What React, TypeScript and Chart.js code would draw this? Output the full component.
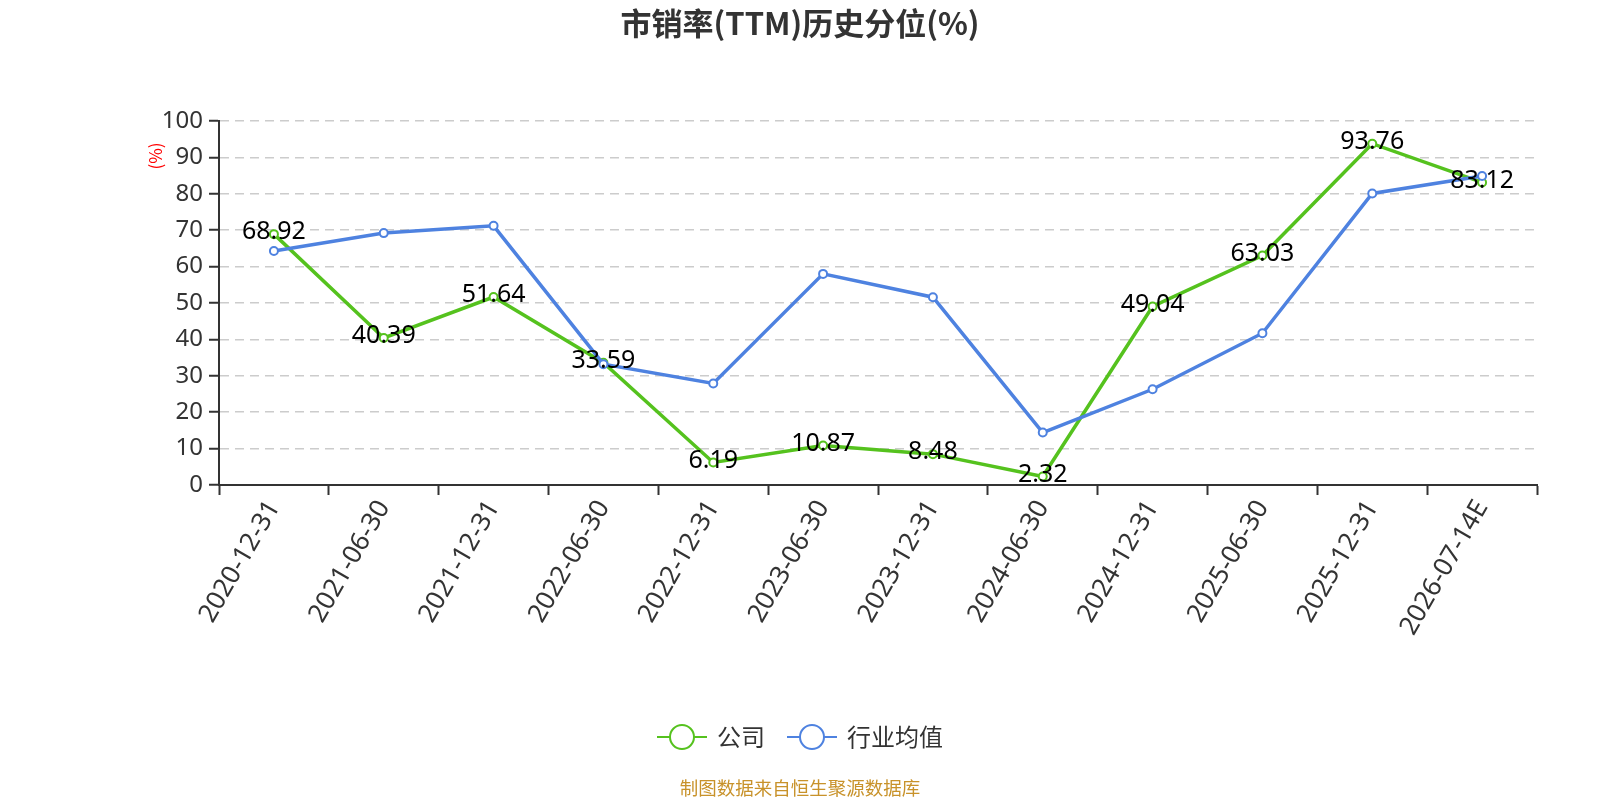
import { useEffect, useRef } from "react";
import { Chart, registerables, type Plugin } from "chart.js";

Chart.register(...registerables);

// ── Data ──────────────────────────────────────────────────────────────────────
const DATES = [
  "2020-12-31", "2021-06-30", "2021-12-31", "2022-06-30", "2022-12-31", "2023-06-30",
  "2023-12-31", "2024-06-30", "2024-12-31", "2025-06-30", "2025-12-31", "2026-07-14E",
];
const COMPANY = [68.92, 40.39, 51.64, 33.59, 6.19, 10.87, 8.48, 2.32, 49.04, 63.03, 93.76, 83.12];
const INDUSTRY = [64.3, 69.2, 71.2, 33.2, 27.9, 58.0, 51.6, 14.4, 26.3, 41.7, 80.1, 84.9];
const SERIES_NAMES = ["公司", "行业均值"];
const TITLE = "市销率(TTM)历史分位(%)";
const Y_NAME = "(%)";
const FOOTER = "制图数据来自恒生聚源数据库";

const GREEN = "#55c21e";
const BLUE = "#4e82e0";
const FONT = '"Noto Sans", "Noto Sans CJK SC", sans-serif';
const CJK = '"Noto Sans CJK SC", "Noto Sans", sans-serif';

// ── Value labels on the company series ───────────────────────────────────────
const valueLabels: Plugin = {
  id: "valueLabels",
  afterDraw(chart) {
    const { ctx } = chart;
    const meta = chart.getDatasetMeta(0);
    ctx.save();
    ctx.font = `25px ${FONT}`;
    ctx.fillStyle = "#000";
    ctx.textAlign = "center";
    ctx.textBaseline = "middle";
    meta.data.forEach((pt, i) => {
      ctx.fillText(COMPANY[i].toFixed(2), pt.x, pt.y - 2);
    });
    ctx.restore();
  },
};

// ── Title, axis name, legend, footer ─────────────────────────────────────────
const decorations: Plugin = {
  id: "decorations",
  afterDraw(chart) {
    const { ctx } = chart;
    const cx = chart.width / 2;
    ctx.save();

    ctx.fillStyle = "#333";
    ctx.font = `bold 31px ${CJK}`;
    ctx.textAlign = "center";
    ctx.textBaseline = "middle";
    ctx.fillText(TITLE, cx, 23);

    // y axis name
    ctx.save();
    ctx.translate(156, 156);
    ctx.rotate(-Math.PI / 2);
    ctx.fillStyle = "#ff0000";
    ctx.font = `17px ${CJK}`;
    ctx.fillText(Y_NAME, 0, 0);
    ctx.restore();

    // legend
    const colors = [GREEN, BLUE];
    ctx.font = `24px ${CJK}`;
    const widths = SERIES_NAMES.map((n) => ctx.measureText(n).width);
    const iconW = 50, gapIcon = 10, gapItem = 22;
    const total = widths.reduce((a, w) => a + iconW + gapIcon + w, 0) + gapItem * (SERIES_NAMES.length - 1);
    let x = cx - total / 2;
    const ly = 737;
    SERIES_NAMES.forEach((name, i) => {
      ctx.strokeStyle = colors[i];
      ctx.lineWidth = 2;
      ctx.beginPath();
      ctx.moveTo(x, ly);
      ctx.lineTo(x + iconW, ly);
      ctx.stroke();
      ctx.beginPath();
      ctx.arc(x + iconW / 2, ly, 12, 0, Math.PI * 2);
      ctx.fillStyle = "#fff";
      ctx.fill();
      ctx.stroke();
      ctx.fillStyle = "#333";
      ctx.textAlign = "left";
      ctx.fillText(name, x + iconW + gapIcon, ly);
      x += iconW + gapIcon + widths[i] + gapItem;
    });

    // footer
    ctx.textAlign = "center";
    ctx.fillStyle = "#c8922a";
    ctx.font = `18.5px ${CJK}`;
    ctx.fillText(FOOTER, cx, 788);

    ctx.restore();
  },
};

export default function App() {
  const canvasRef = useRef<HTMLCanvasElement>(null);

  useEffect(() => {
    const canvas = canvasRef.current;
    if (!canvas) return;

    const chart = new Chart(canvas, {
      type: "line",
      plugins: [decorations, valueLabels],
      data: {
        labels: DATES,
        datasets: [
          {
            label: SERIES_NAMES[0],
            data: COMPANY,
            order: 2,
            borderColor: GREEN,
            borderWidth: 3.5,
            tension: 0,
            pointRadius: 4,
            pointBorderWidth: 2,
            pointBackgroundColor: "#fff",
            pointBorderColor: GREEN,
          },
          {
            label: SERIES_NAMES[1],
            data: INDUSTRY,
            order: 1,
            borderColor: BLUE,
            borderWidth: 3.5,
            tension: 0,
            pointRadius: 4,
            pointBorderWidth: 2,
            pointBackgroundColor: "#fff",
            pointBorderColor: BLUE,
          },
        ],
      },
      options: {
        responsive: false,
        animation: false,
        devicePixelRatio: 1,
        layout: { padding: { left: 119, right: 63, top: 121, bottom: 115 } },
        plugins: {
          legend: { display: false },
          title: { display: false },
          tooltip: { enabled: false },
        },
        scales: {
          x: {
            offset: true,
            afterFit: (s: any) => { s.height = 200; },
            grid: {
              offset: true,
              drawOnChartArea: false,
              drawTicks: true,
              tickLength: 10,
              tickColor: "#333",
              tickWidth: 2,
            },
            border: { display: true, color: "#333", width: 2 },
            ticks: {
              autoSkip: false,
              minRotation: 60,
              maxRotation: 60,
              padding: 0,
              color: "#333",
              font: { family: FONT, size: 26 },
            },
          },
          y: {
            min: 0,
            max: 100,
            afterFit: (s: any) => { s.width = 100; },
            grid: {
              color: "#cccccc",
              lineWidth: 1.5,
              drawTicks: true,
              tickLength: 10,
              tickColor: "#333",
              tickWidth: 2,
            },
            border: { display: true, color: "#333", width: 2, dash: [9, 6] },
            ticks: {
              stepSize: 10,
              padding: 6,
              color: "#333",
              font: { family: FONT, size: 24 },
            },
          },
        },
      },
    });

    return () => { chart.destroy(); };
  }, []);

  return (
    <div style={{ position: "fixed", left: 0, top: 0, width: 1600, height: 800, background: "#fff" }}>
      <canvas ref={canvasRef} width={1600} height={800} style={{ display: "block" }} />
    </div>
  );
}
